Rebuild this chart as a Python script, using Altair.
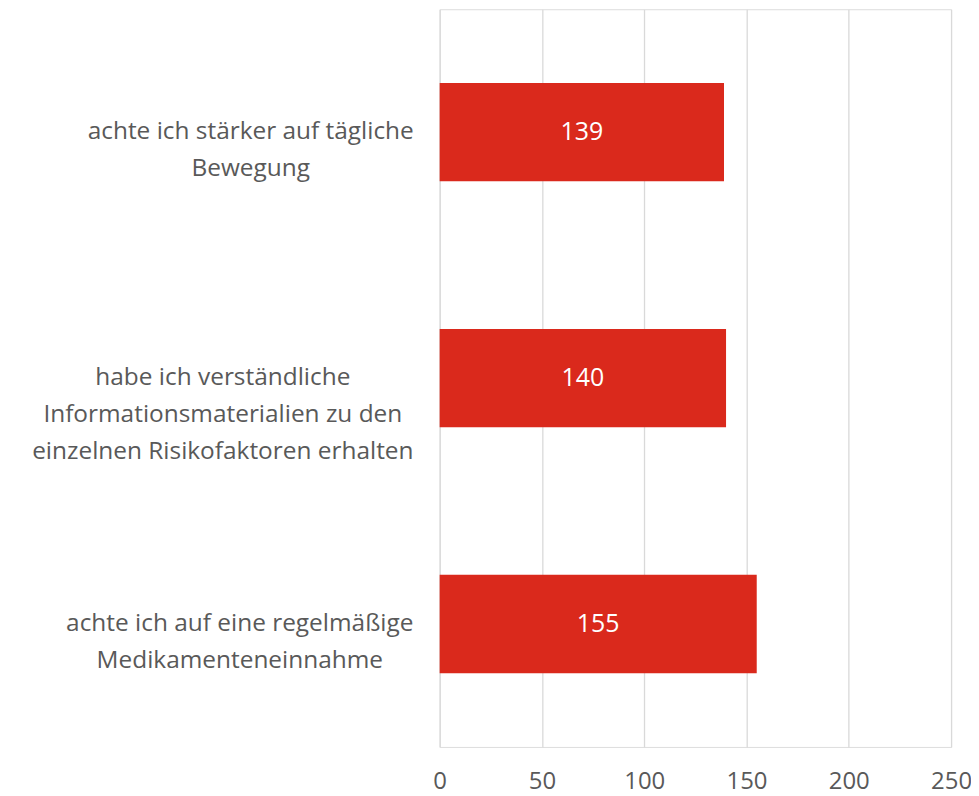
import altair as alt
import pandas as pd

label_lines = [
    ["achte ich stärker auf tägliche", "Bewegung"],
    ["habe ich verständliche", "Informationsmaterialien zu den", "einzelnen Risikofaktoren erhalten"],
    ["achte ich auf eine regelmäßige", "Medikamenteneinnahme"],
]
values = [139, 140, 155]
categories = ["|".join(l) for l in label_lines]

df = pd.DataFrame({"cat": categories, "val": values})

FONT = "Open Sans"
GRAY = "#595959"
RED = "#DA291C"

pad_cond = {
    "condition": [
        {"test": "indexof(datum.value, 'Informations') >= 0", "value": 218},
        {"test": "indexof(datum.value, 'Medikamente') >= 0", "value": 201},
    ],
    "value": 190,
}

y_enc = alt.Y(
    "cat:N",
    sort=categories,
    scale=alt.Scale(paddingInner=0.6, paddingOuter=0.3),
    axis=alt.Axis(
        title=None,
        domain=False,
        ticks=False,
        grid=False,
        labelExpr="split(datum.label, '|')",
        labelAlign="center",
        labelBaseline="middle",
        labelFont=FONT,
        labelFontSize=24.5,
        labelColor=GRAY,
        labelLineHeight=37,
        labelPadding=pad_cond,
        labelLimit=0,
    ),
)

x_enc = alt.X(
    "val:Q",
    scale=alt.Scale(domain=[0, 250], nice=False),
    axis=alt.Axis(
        title=None,
        values=[0, 50, 100, 150, 200, 250],
        domain=False,
        ticks=False,
        grid=True,
        gridColor="#d9d9d9",
        gridWidth=1.3,
        labelFont=FONT,
        labelFontSize=24,
        labelColor=GRAY,
        labelPadding=23,
        labelFlush=False,
    ),
)

base = alt.Chart(df).encode(y=y_enc)

bars = base.mark_bar(color=RED).encode(x=x_enc)

text = base.transform_calculate(mid="datum.val / 2").mark_text(
    color="white", font=FONT, fontSize=25, baseline="middle", align="center"
).encode(x=alt.X("mid:Q"), text=alt.Text("val:Q"))

chart = (
    alt.layer(bars, text)
    .properties(
        width=513,
        height=740,
        autosize=alt.AutoSizeParams(type="none"),
        padding={"left": 433, "top": 0, "right": 20, "bottom": 50},
    )
    .configure_view(stroke=None)
    .configure(background="white")
)

chart.save("out.html", embed_options={"renderer": "svg", "actions": False})
